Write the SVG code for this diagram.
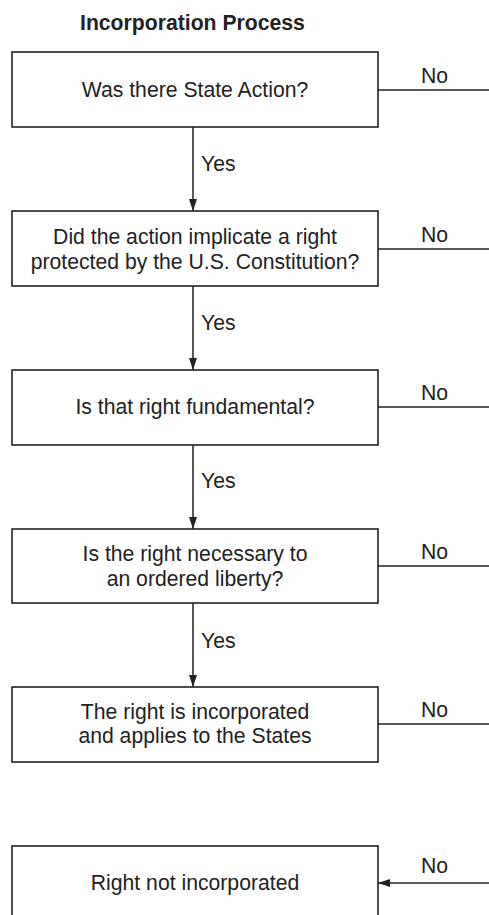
<svg xmlns="http://www.w3.org/2000/svg" width="489" height="915" viewBox="0 0 489 915">
  <defs>
    <marker id="arrow" viewBox="0 0 12 8" refX="12" refY="4" markerWidth="12" markerHeight="8" markerUnits="userSpaceOnUse" orient="auto">
      <path d="M0,0 L12,4 L0,8 Z" fill="#222"/>
    </marker>
    <style>
      .box { fill: #fff; stroke: #222; stroke-width: 1.6; }
      .txt { font-family: "Liberation Sans", Arial, sans-serif; font-size: 21.2px; fill: #222; }
      .mid { text-anchor: middle; }
      .title { font-weight: bold; }
      .link { stroke: #222; stroke-width: 1.5; fill: none; }
    </style>
  </defs>
  <rect width="489" height="915" fill="#fff"/>

  <text class="txt title" x="80" y="30">Incorporation Process</text>

  <!-- connectors: Yes arrows down the spine, No exits to the right -->
  <g id="connectors">
    <line class="link" x1="193" y1="127" x2="193" y2="211" marker-end="url(#arrow)"/>
    <line class="link" x1="193" y1="286" x2="193" y2="370" marker-end="url(#arrow)"/>
    <line class="link" x1="193" y1="445" x2="193" y2="529" marker-end="url(#arrow)"/>
    <line class="link" x1="193" y1="603" x2="193" y2="687" marker-end="url(#arrow)"/>
    <text class="txt" x="201" y="171">Yes</text>
    <text class="txt" x="201" y="330">Yes</text>
    <text class="txt" x="201" y="488">Yes</text>
    <text class="txt" x="201" y="648">Yes</text>

    <line class="link" x1="378" y1="90" x2="489" y2="90"/>
    <line class="link" x1="378" y1="249" x2="489" y2="249"/>
    <line class="link" x1="378" y1="407" x2="489" y2="407"/>
    <line class="link" x1="378" y1="566" x2="489" y2="566"/>
    <line class="link" x1="378" y1="724" x2="489" y2="724"/>
    <line class="link" x1="489" y1="883" x2="378" y2="883" marker-end="url(#arrow)"/>
    <text class="txt" x="421" y="83">No</text>
    <text class="txt" x="421" y="242">No</text>
    <text class="txt" x="421" y="400">No</text>
    <text class="txt" x="421" y="559">No</text>
    <text class="txt" x="421" y="717">No</text>
    <text class="txt" x="421" y="873">No</text>
  </g>

  <g id="state-action">
    <rect class="box" x="12" y="52" width="366" height="75"/>
    <text class="txt mid" x="195" y="97">Was there State Action?</text>
  </g>

  <g id="implicate-right">
    <rect class="box" x="12" y="211" width="366" height="75"/>
    <text class="txt mid" x="195" y="244">Did the action implicate a right</text>
    <text class="txt mid" x="195" y="269">protected by the U.S. Constitution?</text>
  </g>

  <g id="fundamental">
    <rect class="box" x="12" y="370" width="366" height="75"/>
    <text class="txt mid" x="195" y="414">Is that right fundamental?</text>
  </g>

  <g id="ordered-liberty">
    <rect class="box" x="12" y="529" width="366" height="74"/>
    <text class="txt mid" x="195" y="561">Is the right necessary to</text>
    <text class="txt mid" x="195" y="586">an ordered liberty?</text>
  </g>

  <g id="incorporated">
    <rect class="box" x="12" y="687" width="366" height="75"/>
    <text class="txt mid" x="195" y="719">The right is incorporated</text>
    <text class="txt mid" x="195" y="743">and applies to the States</text>
  </g>

  <g id="not-incorporated">
    <rect class="box" x="12" y="846" width="366" height="80"/>
    <text class="txt mid" x="195" y="890">Right not incorporated</text>
  </g>
</svg>
